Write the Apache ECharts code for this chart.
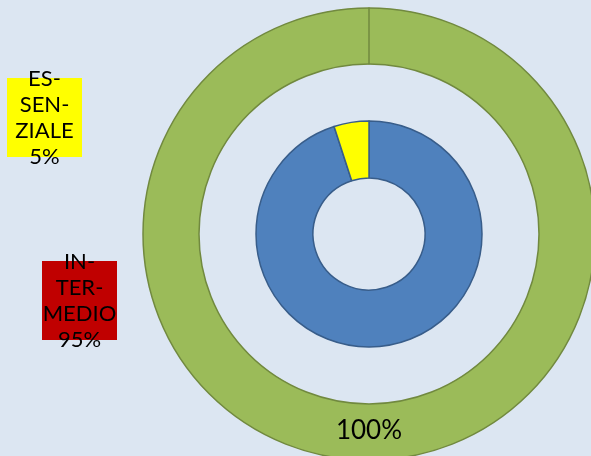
<!DOCTYPE html>
<html>
<head>
<meta charset="utf-8">
<script src="https://cdn.jsdelivr.net/npm/echarts@6/dist/echarts.min.js"></script>
<style>
  html, body { margin: 0; padding: 0; background: #dce6f2; }
  #main { width: 591px; height: 456px; }
</style>
</head>
<body>
<div id="main"></div>
<script>
// anello interno
var categorie = ['INTERMEDIO', 'ESSENZIALE'];
var etichette = ['IN-\nTER-\nMEDIO', 'ES-\nSEN-\nZIALE'];
var valori = [95, 5];
var colori = ['#4f81bd', '#ffff00'];
var coloriBox = ['#c00000', '#ffff00'];
// anello esterno (totale)
var totale = [100];

var labelPos = [[79.5, 300.5], [44.5, 117.5]];

var innerData = [];
for (var i = 0; i < categorie.length; i++) {
    innerData.push({
        name: categorie[i],
        value: valori[i],
        itemStyle: { color: colori[i] },
        label: { backgroundColor: coloriBox[i] }
    });
}

var outerData = [{ name: 'TOTALE', value: totale[0] },
    { name: '', value: 0, label: { show: false } }];

var myChart = echarts.init(document.getElementById('main'));
var option = {
    backgroundColor: '#dce6f2',
    animation: false,
    series: [
        {
            type: 'pie',
            center: [369, 234],
            radius: [170, 226],
            startAngle: 90,
            clockwise: true,
            silent: true,
            itemStyle: { color: '#9bbb59', borderColor: '#71893f', borderWidth: 1.5 },
            label: {
                show: true,
                position: 'inside',
                formatter: '{d}%',
                fontFamily: 'Lato',
                fontSize: 26,
                color: '#000'
            },
            labelLine: { show: false },
            labelLayout: { dy: -4 },
            data: outerData
        },
        {
            type: 'pie',
            center: [369, 234],
            radius: [56, 113],
            startAngle: 90,
            clockwise: true,
            silent: true,
            itemStyle: { borderColor: '#385d8a', borderWidth: 1.5 },
            label: {
                show: true,
                position: 'outside',
                formatter: function (p) {
                    return etichette[p.dataIndex] + '\n' + p.percent + '%';
                },
                fontFamily: 'Lato',
                fontSize: 22,
                lineHeight: 26,
                color: '#000',
                width: 75,
                height: 79,
                align: 'center',
                verticalAlign: 'middle'
            },
            labelLine: { show: false },
            labelLayout: function (params) {
                var p = labelPos[params.dataIndex];
                return { x: p[0], y: p[1], align: 'center', verticalAlign: 'middle', moveOverlap: false };
            },
            data: innerData
        }
    ]
};
myChart.setOption(option);
</script>
</body>
</html>
